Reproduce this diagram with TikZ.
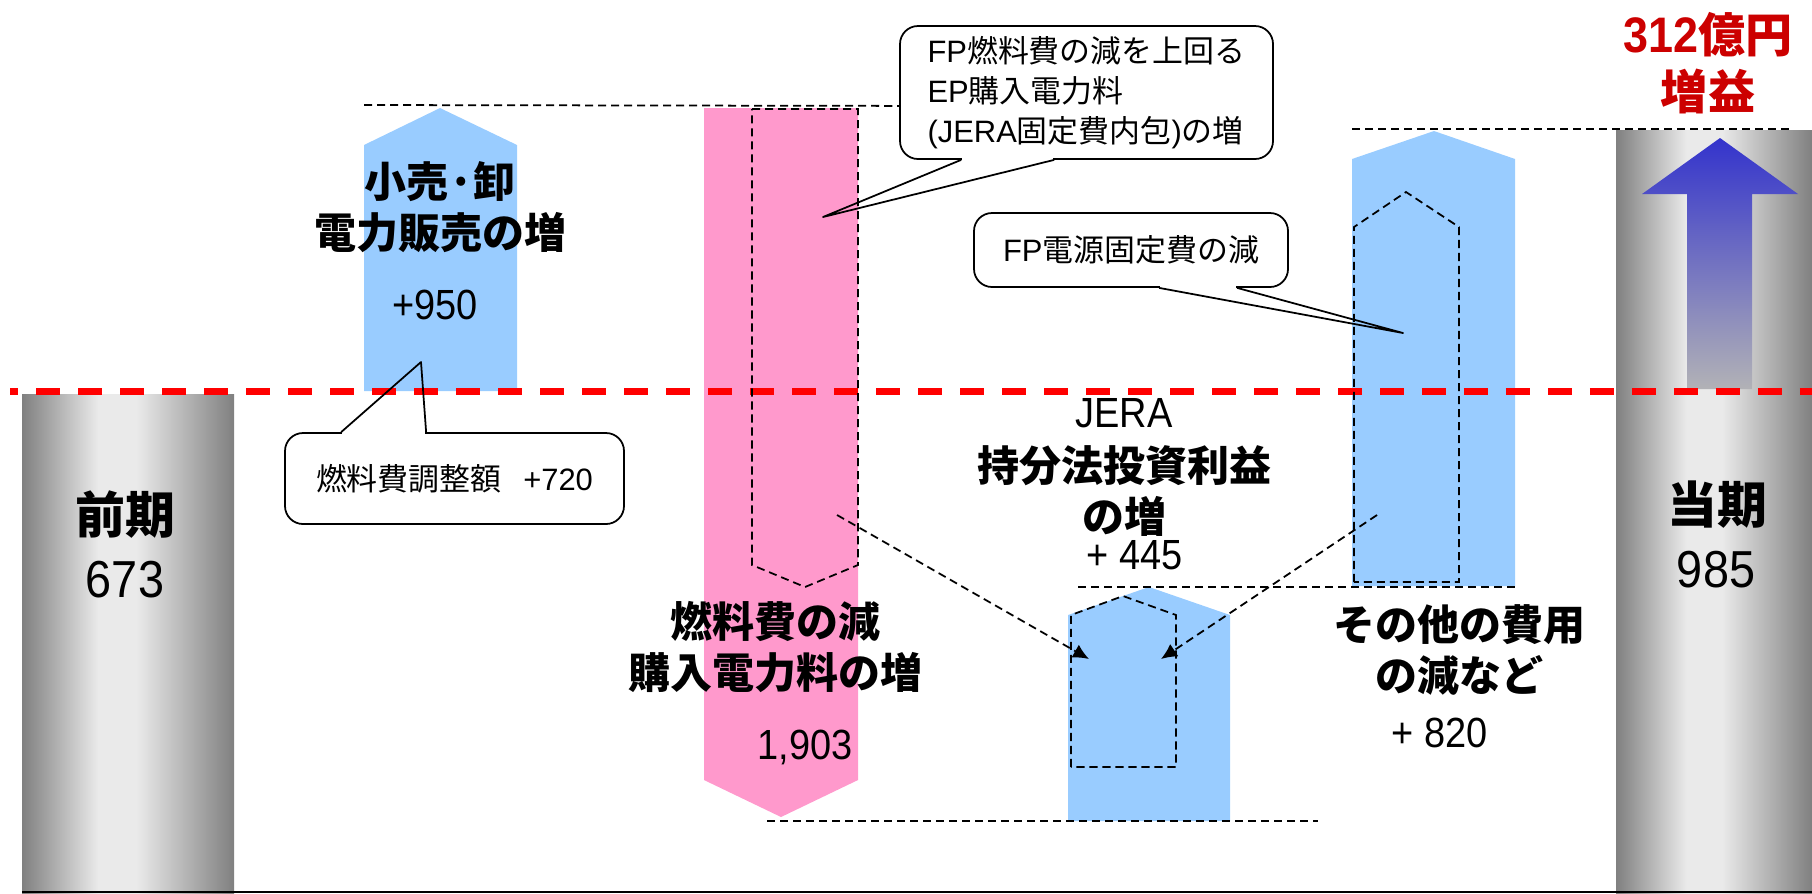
\documentclass[tikz,border=0pt]{standalone}
\usepackage{fontspec}
\setmainfont{Noto Sans CJK JP}
\newfontfamily\latfont{Liberation Sans}
\newfontfamily\numfont{Liberation Sans}[FakeStretch=0.9]
\usetikzlibrary{calc,arrows.meta}
\definecolor{barblue}{RGB}{153,204,255}
\definecolor{barpink}{RGB}{255,153,204}
\definecolor{gainred}{RGB}{204,0,0}
\definecolor{bargray}{RGB}{128,128,128}
\definecolor{barlight}{RGB}{234,234,234}
\pgfdeclarehorizontalshading{barshade}{100bp}{color(0bp)=(bargray); color(25bp)=(bargray); color(43bp)=(barlight); color(52bp)=(barlight); color(75bp)=(bargray); color(100bp)=(bargray)}
\begin{document}
\begin{tikzpicture}[x=0.1mm, y=-0.1mm,
  lbl/.style={font=\fontsize{11.95}{14.5}\selectfont\bfseries, align=center},
  val/.style={font=\fontsize{12}{14}\selectfont\numfont},
  note/.style={draw, line width=0.5pt, fill=white, rounded corners=1.8mm, inner sep=0pt, align=left, font=\fontsize{8.8}{11.4}\selectfont},
  guide/.style={line width=0.5pt, dash pattern=on 2.3pt off 1.4pt}]
\useasboundingbox (0,0) rectangle (1812,893);
% start and end bars
\shade[shading=barshade] (22,394) rectangle (234,893);
\shade[shading=barshade] (1616,130) rectangle (1812,893);
\shade[top color={rgb,255:red,51;green,51;blue,204}, bottom color={rgb,255:red,178;green,178;blue,182}]
  (1687,389) -- (1687,194) -- (1642,194) -- (1720,138) -- (1798,194) -- (1752,194) -- (1752,389) -- cycle;
% steps
\fill[barblue] (364,391) -- (364,145) -- (440,108) -- (517,145) -- (517,391) -- cycle;
\fill[barpink] (704,108) -- (858,108) -- (858,780) -- (781,817) -- (704,780) -- cycle;
\fill[barblue] (1068,821) -- (1068,615) -- (1149,587) -- (1230,615) -- (1230,821) -- cycle;
\fill[barblue] (1352,586) -- (1352,159) -- (1434,131) -- (1515,159) -- (1515,586) -- cycle;
\draw[red, line width=2pt, dash pattern=on 6.83pt off 5.12pt, dash phase=4.55pt] (10,391) -- (1812,391);
\draw[line width=0.45pt] (22,892) -- (1812,892);
% dashed outlines and levels
\draw[guide] (752,109) -- (858,109) -- (858,565) -- (805,587) -- (752,565) -- cycle;
\draw[guide] (1071,767) -- (1071,615) -- (1123,596) -- (1176,615) -- (1176,767) -- cycle;
\draw[guide] (1354,582) -- (1354,227) -- (1406,192) -- (1459,227) -- (1459,582) -- cycle;
\draw[guide] (364,105) -- (960,106);
\draw[guide] (1352,129) -- (1790,129);
\draw[guide] (1078,587) -- (1515,587);
\draw[guide] (767,821) -- (1318,821);
\coordinate (fuelFrom) at (837,515);
\coordinate (otherFrom) at (1377,515);
\coordinate (jeraL) at (1089,659);
\coordinate (jeraR) at (1161,659);
\path[draw, guide, -{Latex[length=4.5pt, width=4.2pt]}] (fuelFrom) -- (jeraL);
\path[draw, guide, -{Latex[length=4.5pt, width=4.2pt]}] (otherFrom) -- (jeraR);
% callouts
\node[note, minimum width=37.3mm, minimum height=13.3mm] (noteFP) at (1086.5,92.5)
  {{\latfont FP}燃料費の減を上回る\\{\latfont EP}購入電力料\\{\latfont (JERA}固定費内包{\latfont )}の増};
\node[note, minimum width=31.4mm, minimum height=7.4mm] (noteFix) at (1131,250)
  {{\latfont FP}電源固定費の減};
\node[note, minimum width=33.9mm, minimum height=9.1mm] (noteAdj) at (454.5,478.5)
  {燃料費調整額\hspace{0.7em}{\latfont +720}};
\coordinate (tipFP) at (823,217);
\coordinate (tipFix) at (1403,333);
\coordinate (tipAdj) at (421,362);
\fill[white] ($(noteFP.south west)+(63,-1.8)$) rectangle ($(noteFP.south west)+(154,1.8)$);
\draw[line width=0.5pt, line join=round] ($(noteFP.south west)+(62,0)$) -- (tipFP) -- ($(noteFP.south west)+(155,0)$);
\fill[white] ($(noteFix.south west)+(187,-1.8)$) rectangle ($(noteFix.south west)+(263,1.8)$);
\draw[line width=0.5pt, line join=round] ($(noteFix.south west)+(186,0)$) -- (tipFix) -- ($(noteFix.south west)+(264,0)$);
\fill[white] ($(noteAdj.north west)+(58,-1.8)$) rectangle ($(noteAdj.north west)+(141,1.8)$);
\draw[line width=0.5pt, line join=round] ($(noteAdj.north west)+(57,0)$) -- (tipAdj) -- ($(noteAdj.north west)+(142,0)$);
% labels
\node[font=\fontsize{14.2}{16}\selectfont\bfseries] (prevName) at (125,515) {前期};
\node[font=\fontsize{14.8}{16}\selectfont\numfont] (prevVal) at (125,580) {673};
\node[font=\fontsize{14.2}{16}\selectfont\bfseries] (currName) at (1717,505) {当期};
\node[font=\fontsize{14.8}{16}\selectfont\numfont] (currVal) at (1716,570) {985};
\node[lbl, text=gainred, font=\fontsize{13.4}{16.2}\selectfont\bfseries] (gain) at (1708,63.5)
  {{\numfont\fontsize{14.2}{16.2}\selectfont 312}億円\\増益};
\node[lbl] (retailLbl) at (440,207.5) {小売·卸\\電力販売の増};
\node[val] (retailVal) at (435,305) {+950};
\node[lbl] (fuelLbl) at (775,647.5) {燃料費の減\\購入電力料の増};
\node[val] (fuelVal) at (805,747) {1,903};
\node[val] (jeraName) at (1124,413) {JERA};
\node[lbl] (jeraLbl) at (1124.5,491) {持分法投資利益\\の増};
\node[val] (jeraVal) at (1135,555) {+ 445};
\node[lbl] (otherLbl) at (1459,650) {その他の費用\\の減など};
\node[val] (otherVal) at (1439.5,733) {+ 820};
\end{tikzpicture}
\end{document}
